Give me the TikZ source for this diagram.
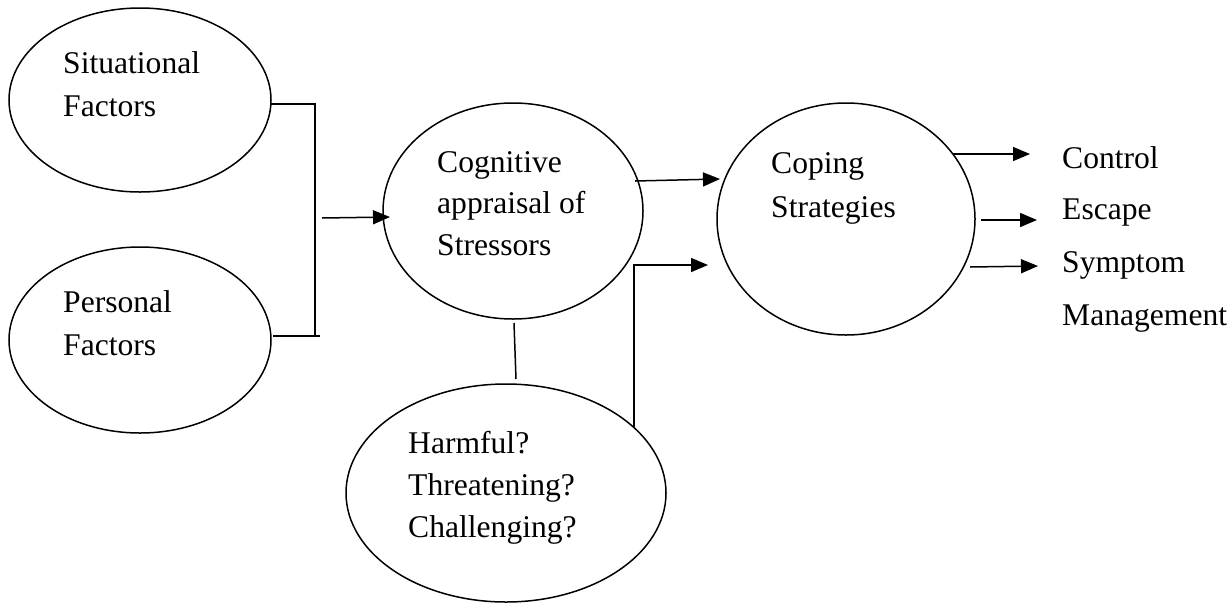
\documentclass[tikz,border=0pt]{standalone}
\usepackage{fontspec}
\setmainfont{Liberation Serif}
\usetikzlibrary{shapes.geometric,arrows.meta}
\begin{document}
\begin{tikzpicture}[x=1pt,y=-1pt,
  oval/.style={draw,ellipse,line width=1.5pt,inner sep=0pt,outer sep=0pt},
  lbl/.style={anchor=base west,inner sep=0pt,font=\fontsize{31.6}{38}\selectfont},
  conn/.style={line width=1.5pt},
  arr/.style={line width=1.5pt,-{Triangle[length=17pt,width=14pt]}}]
\useasboundingbox (0,0) rectangle (1231,603);
% ellipses
\node[oval,minimum width=262pt,minimum height=184pt] (sit) at (140,100) {};
\node[oval,minimum width=262pt,minimum height=186pt] (pers) at (140,340) {};
\node[oval,minimum width=260pt,minimum height=216pt] (cog) at (513,211) {};
\node[oval,minimum width=258pt,minimum height=232pt] (cop) at (846,219) {};
\node[oval,minimum width=320pt,minimum height=218pt] (harm) at (506,493) {};
% texts
\node[lbl] (sitA) at (63,73) {Situational};
\node[lbl] (sitB) at (63,116) {Factors};
\node[lbl] (persA) at (63,312) {Personal};
\node[lbl] (persB) at (63,355) {Factors};
\node[lbl] (cogA) at (437,172) {Cognitive};
\node[lbl] (cogB) at (437,213) {appraisal of};
\node[lbl] (cogC) at (437,255) {Stressors};
\node[lbl] (copA) at (771,173) {Coping};
\node[lbl] (copB) at (771,217) {Strategies};
\node[lbl] (harmA) at (408,453) {Harmful?};
\node[lbl] (harmB) at (408,495) {Threatening?};
\node[lbl] (harmC) at (408,537) {Challenging?};
\node[lbl] (ctrl) at (1062,168) {Control};
\node[lbl] (esc) at (1062,219) {Escape};
\node[lbl] (sym) at (1062,272) {Symptom};
\node[lbl] (mgmt) at (1062,325) {Management};
% connector points
\coordinate (sitR) at (271,104);
\coordinate (j1) at (315,104);
\coordinate (j2) at (315,336);
\coordinate (persR) at (273,336);
\coordinate (j3) at (320,336);
\coordinate (in1) at (322,218);
\coordinate (cogIn) at (390,217);
\coordinate (cogOut) at (635,181);
\coordinate (copIn1) at (720,179);
\coordinate (cogBot) at (514,323);
\coordinate (harmTop) at (516,379);
\coordinate (harmR) at (634,427);
\coordinate (elb) at (634,265);
\coordinate (copIn2) at (708,265);
\coordinate (o1) at (953,154);
\coordinate (t1) at (1030,154);
\coordinate (o2) at (981,220);
\coordinate (t2) at (1037,220);
\coordinate (o3) at (970,267);
\coordinate (t3) at (1038,266);
% connectors
\draw[conn] (sitR) -- (j1) -- (j2);
\draw[conn] (persR) -- (j3);
\draw[arr] (in1) -- (cogIn);
\draw[arr] (cogOut) -- (copIn1);
\draw[conn] (cogBot) -- (harmTop);
\draw[arr] (harmR) -- (elb) -- (copIn2);
\draw[arr] (o1) -- (t1);
\draw[arr] (o2) -- (t2);
\draw[arr] (o3) -- (t3);
\end{tikzpicture}
\end{document}
